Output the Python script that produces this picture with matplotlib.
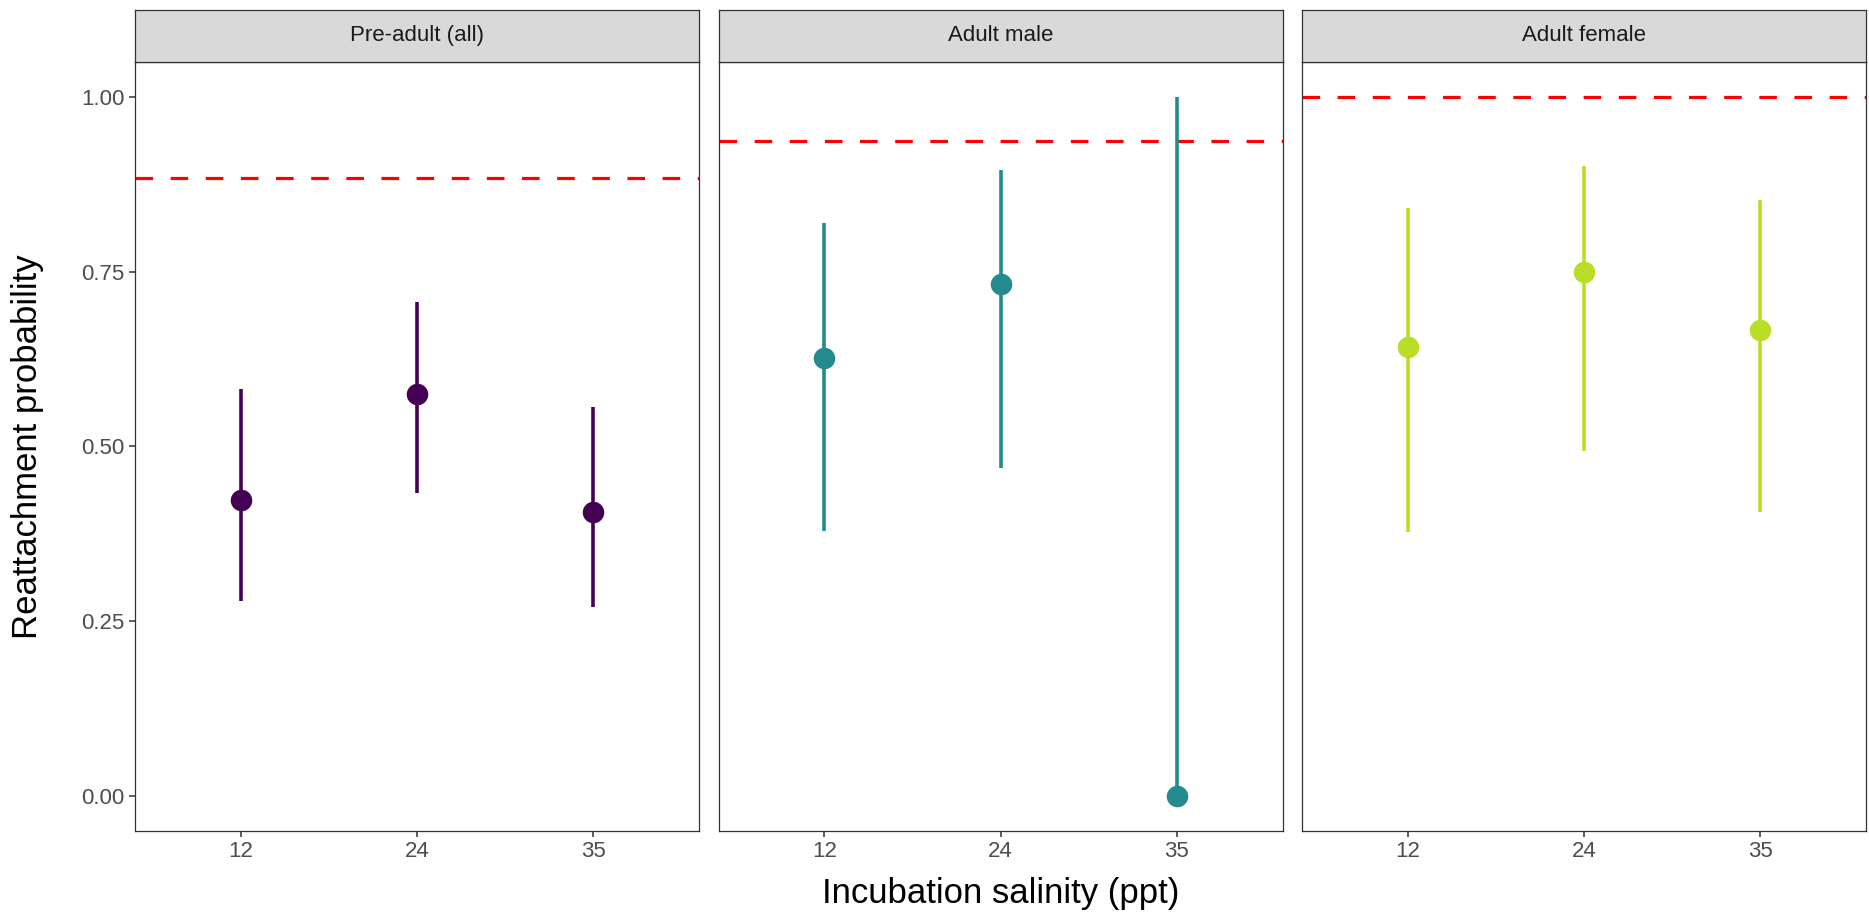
import matplotlib
matplotlib.use("Agg")
import matplotlib.pyplot as plt

plt.rcParams['font.family'] = ['Liberation Sans', 'DejaVu Sans']

# ---- data ----
panels = ["Pre-adult (all)", "Adult male", "Adult female"]
salinity = ["12", "24", "35"]
colors = ["#440154", "#238A8D", "#BADE28"]

estimate_pre = [0.423, 0.575, 0.406]
lower_pre = [0.279, 0.433, 0.270]
upper_pre = [0.582, 0.706, 0.557]

estimate_male = [0.626, 0.733, 0.0]
lower_male = [0.379, 0.469, 0.0]
upper_male = [0.820, 0.895, 1.0]

estimate_female = [0.643, 0.750, 0.667]
lower_female = [0.378, 0.494, 0.406]
upper_female = [0.841, 0.901, 0.852]

reference_line = [0.884, 0.937, 1.0]

estimates = [estimate_pre, estimate_male, estimate_female]
lowers = [lower_pre, lower_male, lower_female]
uppers = [upper_pre, upper_male, upper_female]

yticks = [0.0, 0.25, 0.5, 0.75, 1.0]
ytick_labels = ["0.00", "0.25", "0.50", "0.75", "1.00"]

# ---- figure ----
W, H = 1869, 918
fig = plt.figure(figsize=(W / 100, H / 100), dpi=100)

left0 = 135
pw = 564
gap = 19.5
ax_bottom = 831
ax_top = 62
strip_top = 9.5

def fx(px):
    return px / W

def fy(py):
    return 1 - py / H

border_col = "#333333"
tick_col = "#4D4D4D"

for i, name in enumerate(panels):
    x0 = left0 + i * (pw + gap)
    ax = fig.add_axes([fx(x0), fy(ax_bottom), fx(pw), fy(ax_top) - fy(ax_bottom)])
    xs = list(range(1, len(salinity) + 1))
    ax.axhline(reference_line[i], color="#FF0000", lw=2.3, linestyle=(0, (5.5, 5.5)), zorder=1)
    ax.vlines(xs, lowers[i], uppers[i], color=colors[i], lw=2.6, zorder=2)
    ax.plot(xs, estimates[i], 'o', color=colors[i], markersize=15.5, markeredgewidth=0, zorder=3)
    ax.set_xlim(0.4, 3.6)
    ax.set_ylim(-0.05, 1.05)
    ax.set_xticks(xs)
    ax.set_xticklabels(salinity)
    ax.set_yticks(yticks)
    if i == 0:
        ax.set_yticklabels(ytick_labels)
        ax.tick_params(axis='y', length=4.5, width=1.1, color=border_col,
                       labelsize=16, labelcolor=tick_col, pad=3)
    else:
        ax.tick_params(axis='y', left=False, labelleft=False)
    ax.tick_params(axis='x', length=4.5, width=1.1, color=border_col,
                   labelsize=16, labelcolor=tick_col, pad=3)
    for s in ax.spines.values():
        s.set_color(border_col)
        s.set_linewidth(0.9)
    # strip
    sax = fig.add_axes([fx(x0), fy(ax_top), fx(pw), fy(strip_top) - fy(ax_top)])
    sax.set_facecolor("#D9D9D9")
    sax.set_xticks([])
    sax.set_yticks([])
    for s in sax.spines.values():
        s.set_color(border_col)
        s.set_linewidth(0.9)
    sax.text(0.5, 0.5, name, ha="center", va="center", fontsize=16,
             color="#1A1A1A", transform=sax.transAxes)

fig.text(fx(28), fy((ax_top + ax_bottom) / 2), "Reattachment probability",
         rotation=90, ha="center", va="center", fontsize=25, color="black")
fig.text(fx(left0 + (3 * pw + 2 * gap) / 2), fy(893), "Incubation salinity (ppt)",
         ha="center", va="center", fontsize=25, color="black")

fig.savefig("out.png", dpi=100, facecolor="white")
